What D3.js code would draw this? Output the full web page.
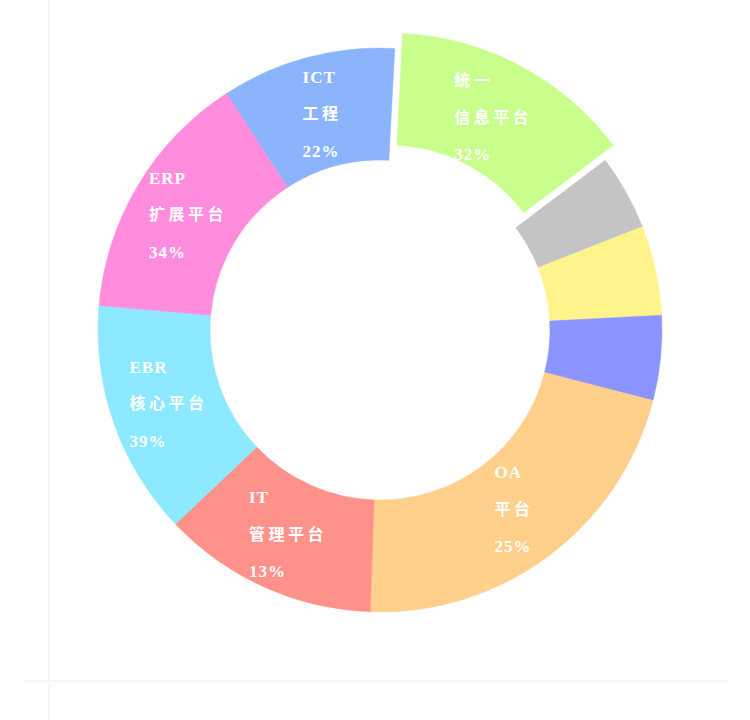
<!DOCTYPE html>
<html><head><meta charset="utf-8">
<script src="https://cdn.jsdelivr.net/npm/d3@7/dist/d3.min.js"></script>
<style>html,body{margin:0;padding:0;background:#fff;}svg{display:block;}</style>
</head><body>
<svg id="chart" width="750" height="720"></svg>
<script>
const categories = ["ICT 工程", "统一信息平台", "其他A", "其他B", "其他C", "OA 平台", "IT 管理平台", "EBR 核心平台", "ERP 扩展平台"];
const values = [36, 50, 15.5, 18.5, 17.5, 77.5, 44.5, 48.5, 52];
const labelLines = [["ICT", "工程", "22%"], ["统一", "信息平台", "32%"], null, null, null,
  ["OA", "平台", "25%"], ["IT", "管理平台", "13%"], ["EBR", "核心平台", "39%"], ["ERP", "扩展平台", "34%"]];
const colors = ["#8cb4fd", "#c8fe8c", "#c4c4c4", "#fff48c", "#8c94ff", "#fed08c", "#ff918b", "#8ce9ff", "#ff8cdc"];
const exploded = [false, true, false, false, false, false, false, false, false];

const svg = d3.select("#chart");
svg.append("line").attr("x1", 49).attr("x2", 49).attr("y1", 0).attr("y2", 720).attr("stroke", "#f6f6f6").attr("stroke-width", 2);
svg.append("line").attr("x1", 24).attr("x2", 727).attr("y1", 681).attr("y2", 681).attr("stroke", "#f6f6f6").attr("stroke-width", 2);

const cx = 380, cy = 330, rOuter = 282, rInner = 170, explode = 17;
const start = -33 * Math.PI / 180;
const pie = d3.pie().sort(null).value(d => d).startAngle(start).endAngle(start + 2 * Math.PI);
const arcs = pie(values);
const arc = d3.arc().innerRadius(rInner).outerRadius(rOuter);
const labelArc = d3.arc().innerRadius(224).outerRadius(224);
const g = svg.append("g").attr("transform", `translate(${cx},${cy})`);

g.selectAll("path").data(arcs).join("path")
  .attr("d", arc)
  .attr("fill", (d, i) => colors[i])
  .attr("stroke", (d, i) => colors[i]).attr("stroke-width", 0.5)
  .attr("transform", (d, i) => {
    if (!exploded[i]) return null;
    const a = (d.startAngle + d.endAngle) / 2;
    return `translate(${explode * Math.sin(a)},${-explode * Math.cos(a)})`;
  });

const lineH = 37;
const isCJK = s => /[\u4e00-\u9fff]/.test(s);
arcs.forEach((d, i) => {
  const lines = labelLines[i];
  if (!lines) return;
  const [x0, y0] = labelArc.centroid(d);
  const a = (d.startAngle + d.endAngle) / 2;
  const off = exploded[i] ? explode : 0;
  const x = x0 + off * Math.sin(a), y = y0 - off * Math.cos(a);
  const t = g.append("text").attr("fill", "#fff")
    .style("font-family", "'Liberation Serif','Noto Sans CJK SC',serif");
  lines.forEach((s, k) => {
    const cjk = isCJK(s);
    t.append("tspan").attr("x", 0).attr("y", (k - 1) * lineH).attr("dy", "0.35em")
      .style("font-size", cjk ? "16px" : "17px")
      .style("font-weight", "bold")
      .style("letter-spacing", cjk ? "3.5px" : "1px")
      .text(s);
  });
  const bb = t.node().getBBox();
  t.attr("transform", `translate(${x - bb.width / 2},${y})`);
});
</script>
</body></html>
